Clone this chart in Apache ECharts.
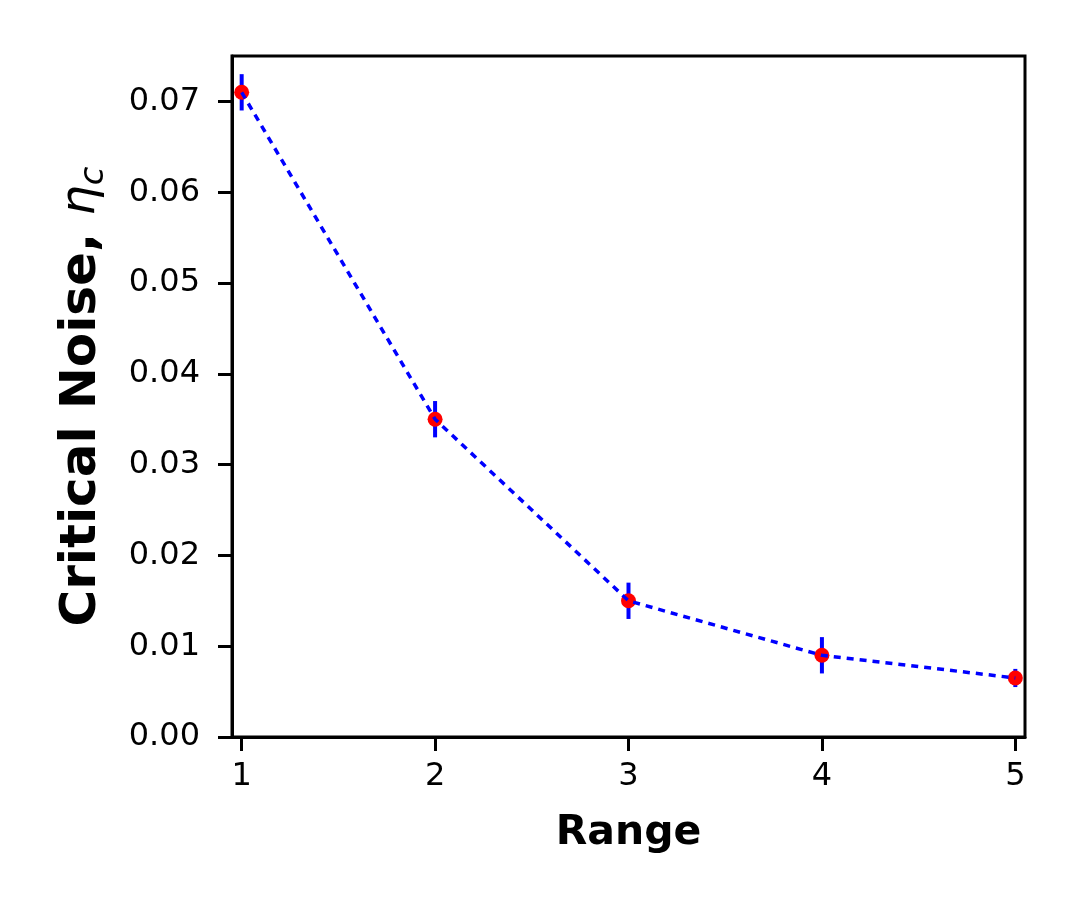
<!DOCTYPE html>
<html>
<head>
<meta charset="utf-8">
<script src="https://cdn.jsdelivr.net/npm/echarts@6/dist/echarts.min.js"></script>
<style>html,body{margin:0;padding:0;background:#fff}#c{width:1080px;height:900px}</style>
</head>
<body>
<div id="c"></div>
<script>
const ranges = [1, 2, 3, 4, 5];
const critNoise = [0.071, 0.035, 0.015, 0.009, 0.0065];
const errors = [0.002, 0.002, 0.002, 0.002, 0.001];
const xTicks = [1, 2, 3, 4, 5];
const yTicks = [0, 0.01, 0.02, 0.03, 0.04, 0.05, 0.06, 0.07];

const pts = ranges.map((r, i) => [r, critNoise[i]]);
const errData = ranges.map((r, i) => [r, critNoise[i] - errors[i], critNoise[i] + errors[i]]);
const FF = 'DejaVu Sans';

const chart = echarts.init(document.getElementById('c'), null, {renderer: 'canvas'});
chart.setOption({
  animation: false,
  backgroundColor: '#fff',
  grid: {left: 232, top: 56, width: 793, height: 681, show: true, borderColor: '#000', borderWidth: 3, backgroundColor: 'transparent'},
  xAxis: {
    type: 'value', min: 0.95, max: 5.05,
    name: 'Range', nameLocation: 'middle', nameGap: 76,
    nameTextStyle: {fontFamily: FF, fontWeight: 'bold', fontSize: 41, color: '#000'},
    axisLine: {show: true, onZero: false, lineStyle: {color: '#000', width: 3}},
    axisTick: {show: true, inside: false, length: 14, lineStyle: {color: '#000', width: 3}, customValues: xTicks},
    axisLabel: {fontFamily: FF, fontSize: 32, color: '#000', margin: 24, customValues: xTicks, formatter: v => String(v)},
    splitLine: {show: false}
  },
  yAxis: {
    type: 'value', min: 0, max: 0.075,
    name: '{b|Critical Noise, }{i|η}{s|c}', nameLocation: 'middle', nameGap: 121,
    nameTextStyle: {
      fontFamily: FF, fontSize: 50, color: '#000',
      rich: {
        b: {fontFamily: FF, fontWeight: 'bold', fontSize: 50, color: '#000'},
        i: {fontFamily: FF, fontStyle: 'italic', fontSize: 48, color: '#000'},
        s: {fontFamily: FF, fontStyle: 'italic', fontSize: 34, color: '#000', padding: [24, 0, 0, 0]}
      }
    },
    axisLine: {show: true, onZero: false, lineStyle: {color: '#000', width: 3}},
    axisTick: {show: true, inside: false, length: 14, lineStyle: {color: '#000', width: 3}, customValues: yTicks},
    axisLabel: {fontFamily: FF, fontSize: 32, color: '#000', margin: 32, customValues: yTicks, formatter: v => v.toFixed(2)},
    splitLine: {show: false}
  },
  series: [
    {
      type: 'custom', z: 1,
      data: errData,
      renderItem: function (params, api) {
        const x = api.value(0);
        const lo = api.coord([x, api.value(1)]);
        const hi = api.coord([x, api.value(2)]);
        return {type: 'line', shape: {x1: lo[0], y1: lo[1], x2: hi[0], y2: hi[1]}, style: {stroke: '#0000ff', lineWidth: 4}};
      }
    },
    {
      type: 'scatter', z: 2, data: pts, symbol: 'circle', symbolSize: 15,
      itemStyle: {color: '#ff0000', opacity: 1}
    },
    {
      type: 'line', z: 3, data: pts, showSymbol: false, symbol: 'none',
      lineStyle: {color: '#0000ff', width: 3.5, type: [7, 6]}
    }
  ]
});
</script>
</body>
</html>
